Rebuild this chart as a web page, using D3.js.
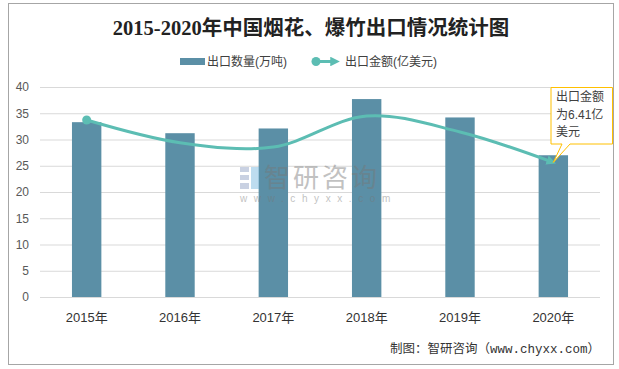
<!DOCTYPE html>
<html><head><meta charset="utf-8">
<script src="https://cdn.jsdelivr.net/npm/d3@7"></script>
<style>body{margin:0;background:#fff}svg{display:block}</style>
</head><body><svg id="c" width="619" height="369"></svg>
<script>
const years = ["2015年","2016年","2017年","2018年","2019年","2020年"];
const quantity = [33.3, 31.2, 32.1, 37.7, 34.2, 27.0];   // 出口数量(万吨)
const amount = [8.43, 7.35, 7.14, 8.62, 7.86, 6.41];     // 出口金额(亿美元)
const yTicks = [0,5,10,15,20,25,30,35,40];
const title = "2015-2020年中国烟花、爆竹出口情况统计图";
const legendNames = ["出口数量(万吨)","出口金额(亿美元)"];
const calloutLines = ["出口金额","为6.41亿","美元"];
const source = "制图：智研咨询（www.chyxx.com）";

const svg = d3.select("#c");
const barColor = "#5b8fa6", lineColor = "#5cbdb3";
const cjk = "'Noto Sans CJK SC','Microsoft YaHei',sans-serif";

svg.append("defs").append("marker").attr("id","arr")
  .attr("viewBox","0 0 10 10").attr("refX",7).attr("refY",5)
  .attr("markerWidth",3.2).attr("markerHeight",3.2).attr("orient","auto")
  .append("path").attr("d","M0,0L10,5L0,10z").attr("fill",lineColor);

svg.append("rect").attr("x",8.5).attr("y",3.5).attr("width",605).attr("height",361)
  .attr("fill","#fff").attr("stroke","#a6a6a6").attr("stroke-width",1);

svg.append("text").attr("x",311).attr("y",35).attr("text-anchor","middle")
  .attr("font-family","'Liberation Serif','Noto Sans CJK SC',serif").attr("font-weight","bold")
  .attr("font-size",20.5).attr("fill","#222").text(title);

const x = d3.scaleBand().domain(years).range([40,600]).paddingInner(0.685).paddingOuter(0.3425);
const y = d3.scaleLinear().domain([0,40]).range([297,87]);
const y2 = d3.scaleLinear().domain([0,10]).range([297,87]);

// grid
const yAxis = svg.append("g").attr("transform","translate(40,0)")
  .call(d3.axisLeft(y).tickValues(yTicks).tickSize(-560).tickPadding(11));
yAxis.select(".domain").remove();
yAxis.selectAll(".tick line").attr("stroke","#d9d9d9");
yAxis.selectAll(".tick text").attr("font-family","'Liberation Sans',Arial,sans-serif")
  .attr("font-size",12).attr("fill","#595959");

// bars
svg.append("g").selectAll("rect").data(quantity).join("rect")
  .attr("x",(d,i)=>x(years[i])).attr("width",x.bandwidth())
  .attr("y",d=>y(d)).attr("height",d=>y(0)-y(d)).attr("fill",barColor);

// x labels
const xAxis = svg.append("g").attr("transform","translate(0,297)")
  .call(d3.axisBottom(x).tickSize(0).tickPadding(16));
xAxis.select(".domain").remove();
xAxis.selectAll(".tick text").attr("font-family","'Liberation Sans',"+cjk)
  .attr("font-size",13).attr("fill","#333");

// watermark
const wm = svg.append("g").attr("opacity",0.45);
wm.append("rect").attr("x",240).attr("y",167).attr("width",9).attr("height",5).attr("fill","#8a9bc0");
wm.append("rect").attr("x",240).attr("y",175).attr("width",9).attr("height",5).attr("fill","#8a9bc0");
wm.append("rect").attr("x",240).attr("y",183).attr("width",9).attr("height",6).attr("fill","#8a9bc0");
wm.append("rect").attr("x",251).attr("y",167).attr("width",8).attr("height",22).attr("fill","#6fb3dd");
wm.append("text").attr("x",264).attr("y",187).attr("font-family",cjk).attr("font-size",26)
  .attr("fill","#777").attr("letter-spacing",3).text("智研咨询");
wm.append("text").attr("x",240).attr("y",202).attr("font-family","'Liberation Sans',sans-serif")
  .attr("font-size",10).attr("fill","#777").attr("letter-spacing",6.6).text("www.chyxx.com");

// line
const cx = (d,i)=>x(years[i])+x.bandwidth()/2;
const line = d3.line().x(cx).y(d=>y2(d)).curve(d3.curveCatmullRom.alpha(0.5));
svg.append("path").datum(amount).attr("d",line).attr("fill","none")
  .attr("stroke",lineColor).attr("stroke-width",3).attr("marker-end","url(#arr)");
svg.append("circle").attr("cx",cx(amount[0],0)).attr("cy",y2(amount[0])).attr("r",4.5).attr("fill",lineColor);

// callout
const px = cx(amount[5],5), py = y2(amount[5]);
svg.append("path").attr("d",`M551,87.5H612.5V144H570L${px},${py}L562,144H551Z`)
  .attr("fill","#fff").attr("stroke","#ffc000").attr("stroke-width",1);
svg.append("g").selectAll("text").data(calloutLines).join("text")
  .attr("x",556).attr("y",(d,i)=>101+i*17.5).attr("font-family","'Liberation Sans',"+cjk)
  .attr("font-size",12).attr("fill","#404040").text(d=>d);

// legend
const lg = svg.append("g").attr("font-family","'Liberation Sans',"+cjk).attr("font-size",12).attr("fill","#404040");
lg.append("rect").attr("x",180).attr("y",58).attr("width",25).attr("height",7).attr("fill",barColor);
lg.append("text").attr("x",207).attr("y",65.5).text(legendNames[0]);
lg.append("line").attr("x1",316).attr("x2",337).attr("y1",61.5).attr("y2",61.5)
  .attr("stroke",lineColor).attr("stroke-width",3).attr("marker-end","url(#arr)");
lg.append("circle").attr("cx",316).attr("cy",61.5).attr("r",4.5).attr("fill",lineColor);
lg.append("text").attr("x",345).attr("y",65.5).text(legendNames[1]);

// source
svg.append("text").attr("x",600).attr("y",353).attr("text-anchor","end")
  .attr("font-family","'Liberation Mono',"+cjk).attr("font-size",12.5).attr("fill","#333").text(source);
</script></body></html>
